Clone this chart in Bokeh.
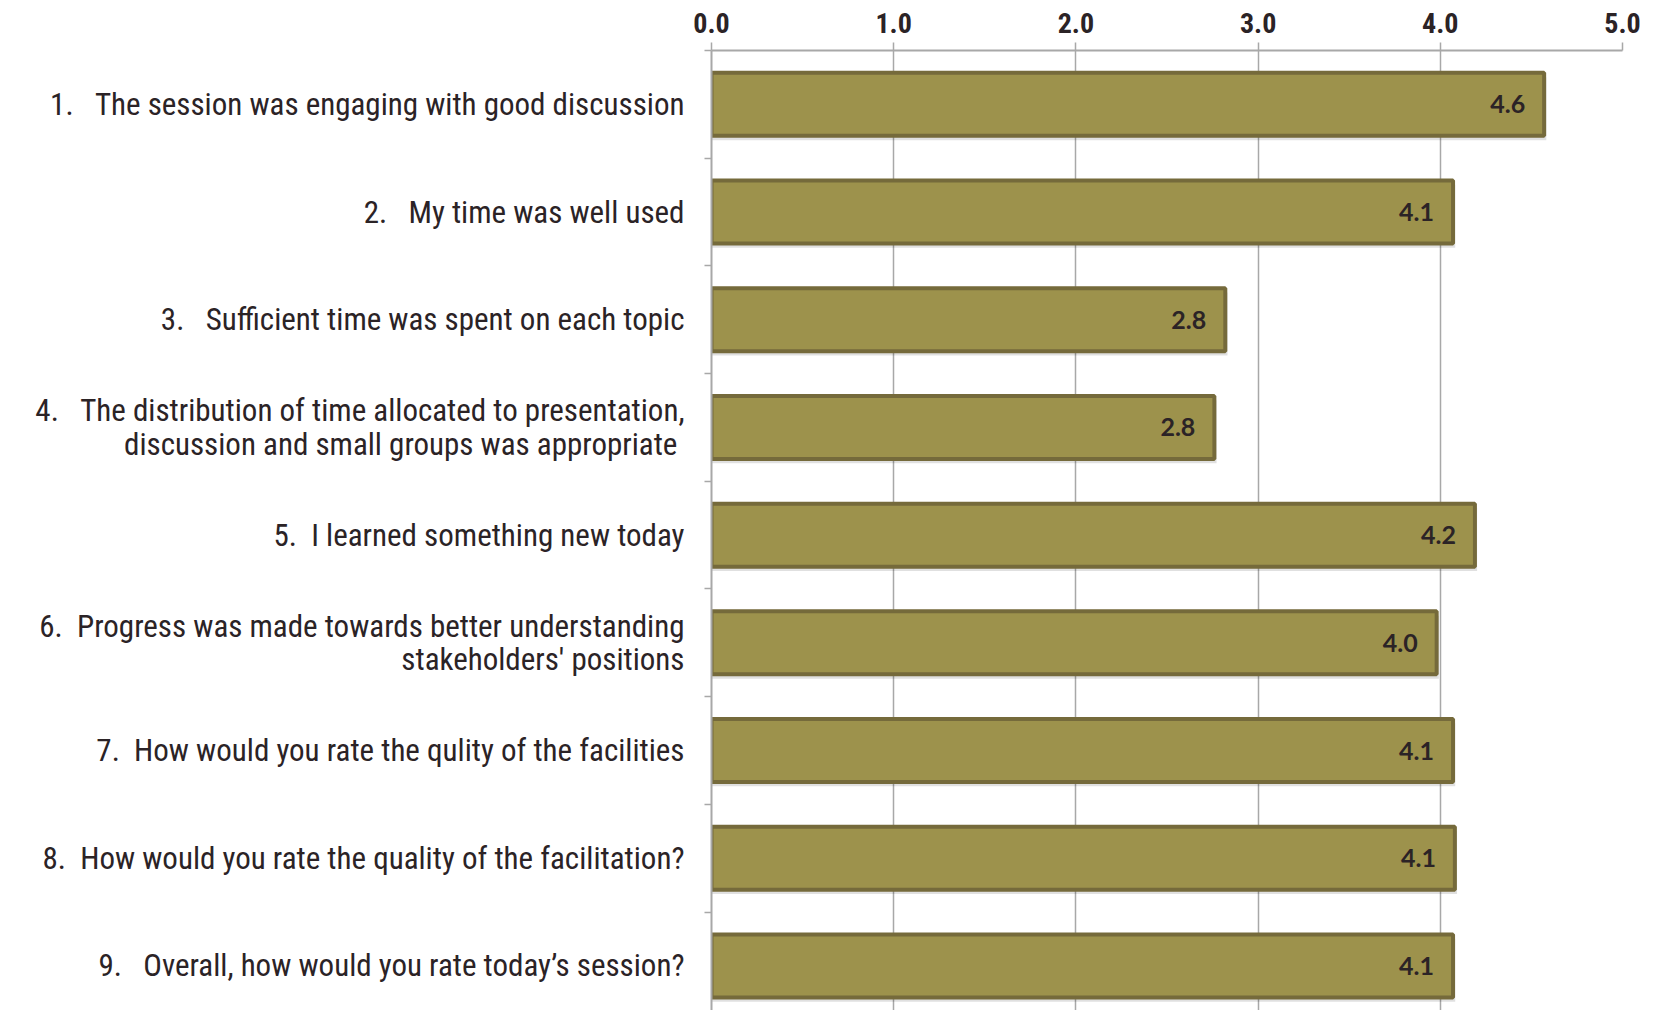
from bokeh.plotting import figure
from bokeh.models import ColumnDataSource, Range1d, FixedTicker
from bokeh.transform import dodge
from bokeh.core.properties import value
from bokeh.embed import file_html
from bokeh.resources import INLINE

NB = "\u00a0"
questions = [
    "1." + NB * 3 + "The session was engaging with good discussion",
    "2." + NB * 3 + "My time was well used",
    "3." + NB * 3 + "Sufficient time was spent on each topic",
    "4." + NB * 3 + "The distribution of time allocated to presentation,\ndiscussion and small groups was appropriate" + NB,
    "5." + NB * 2 + "I learned something new today",
    "6." + NB * 2 + "Progress was made towards better understanding\nstakeholders' positions",
    "7." + NB * 2 + "How would you rate the qulity of the facilities",
    "8." + NB * 2 + "How would you rate the quality of the facilitation?",
    "9." + NB * 3 + "Overall, how would you rate today\u2019s session?",
]
scores = [4.57, 4.07, 2.82, 2.76, 4.19, 3.98, 4.07, 4.08, 4.07]
x_ticks = [0, 1, 2, 3, 4, 5]
x_tick_labels = ["0.0", "1.0", "2.0", "3.0", "4.0", "5.0"]

pos = list(range(len(questions)))
src = ColumnDataSource(dict(
    y=pos,
    score=scores,
    label=[f"{s:.1f}" for s in scores],
))

FONT = "Liberation Sans Narrow, Roboto Condensed, Arial Narrow, sans-serif"
TXT = "#2b2326"
GRAY = "#a8a8a8"

p = figure(
    width=1648, height=1010,
    x_range=Range1d(0, 5), y_range=Range1d(8.414, -0.5),
    x_axis_location="above",
    output_backend="svg", toolbar_location=None,
    min_border_left=711, min_border_right=26, min_border_top=50, min_border_bottom=0,
)
p.outline_line_color = None
p.background_fill_color = "white"

# grid
p.xgrid.ticker = FixedTicker(ticks=x_ticks)
p.xgrid.grid_line_color = GRAY
p.xgrid.grid_line_width = 1.5
p.ygrid.grid_line_color = None

# top axis
xa = p.xaxis[0]
xa.ticker = FixedTicker(ticks=x_ticks)
xa.major_label_overrides = {t: l for t, l in zip(x_ticks, x_tick_labels)}
xa.axis_line_color = GRAY
xa.axis_line_width = 2
xa.major_tick_line_color = GRAY
xa.major_tick_line_width = 1.5
xa.major_tick_out = 8
xa.major_tick_in = 0
xa.minor_tick_line_color = None
xa.major_label_text_font = FONT
xa.major_label_text_font_size = "28px"
xa.major_label_text_font_style = "bold"
xa.major_label_text_color = TXT
xa.major_label_standoff = 10

# left axis
ya = p.yaxis[0]
boundaries = [i - 0.5 for i in range(len(questions) + 1)]
ya.ticker = FixedTicker(ticks=pos, minor_ticks=boundaries)
ya.major_label_overrides = {i: q for i, q in zip(pos, questions)}
ya.axis_line_color = GRAY
ya.axis_line_width = 2
ya.major_tick_line_color = None
ya.major_tick_out = 0
ya.major_tick_in = 0
ya.minor_tick_line_color = GRAY
ya.minor_tick_line_width = 1.5
ya.minor_tick_out = 7
ya.minor_tick_in = 0
ya.major_label_text_font = FONT
ya.major_label_text_font_size = "31px"
ya.major_label_text_line_height = 0.9
ya.major_label_text_color = TXT
ya.major_label_standoff = 20
ya.major_label_text_align = "right"

# shadow
p.hbar(y=dodge("y", 0.04, range=p.y_range), left=0, right=dodge("score", 0.012, range=p.x_range),
       height=0.585, source=src, fill_color="#000000", fill_alpha=0.12, line_color=None)
# bars
p.hbar(y="y", left=0, right="score", height=0.585, source=src,
       fill_color="#9d924c", line_color="#756a3b", line_width=4)

p.text(x="score", y="y", text="label", source=src, x_offset=-19,
       text_align="right", text_baseline="middle",
       text_font=value("Lato"), text_font_style="bold",
       text_font_size="25px", text_color=TXT)

open("out.html", "w").write(file_html(p, INLINE))
